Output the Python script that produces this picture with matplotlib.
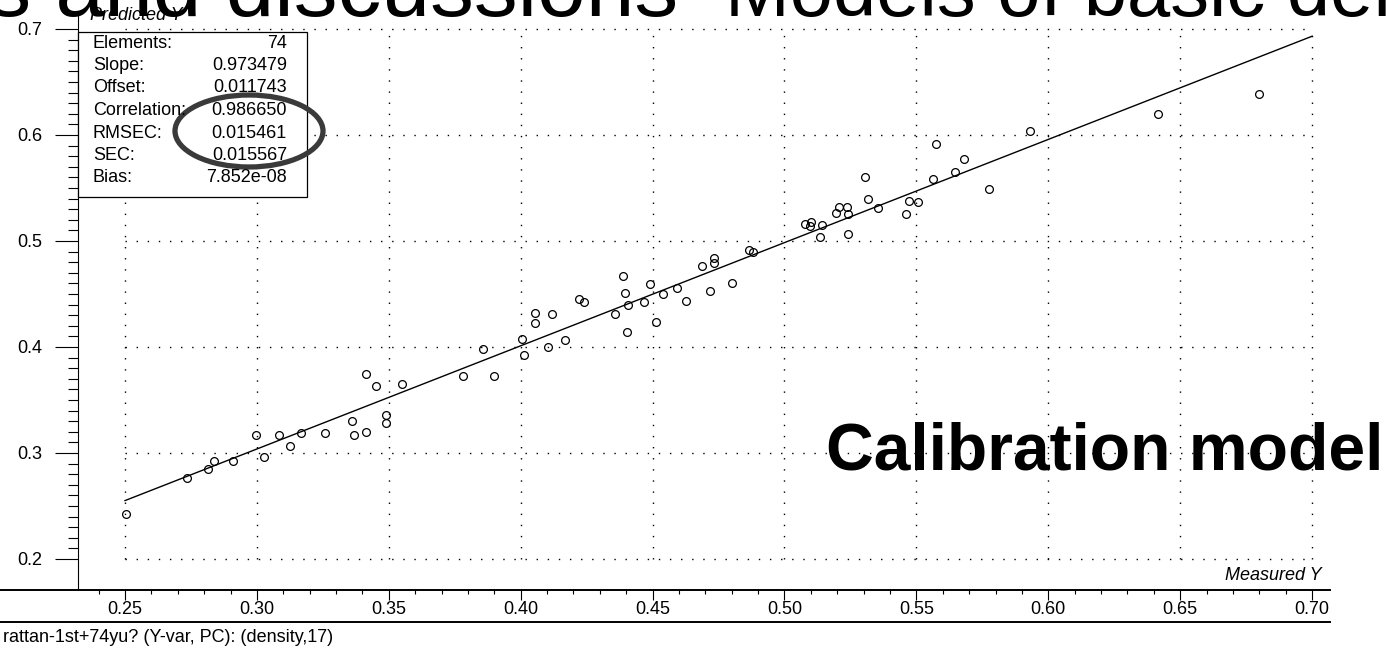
import matplotlib
matplotlib.use("Agg")
import matplotlib.pyplot as plt
from matplotlib.patches import Rectangle, Ellipse
from matplotlib.ticker import FixedLocator
import numpy as np

plt.rcParams['font.family'] = ['Liberation Sans', 'DejaVu Sans']

# ---- data -------------------------------------------------------------
measured = [0.2504, 0.2736, 0.2813, 0.2839, 0.2908, 0.2997, 0.3028, 0.3084,
            0.3124, 0.3168, 0.3259, 0.3359, 0.3369, 0.3414, 0.3412, 0.3453,
            0.3488, 0.3489, 0.3549, 0.3783, 0.3858, 0.3900, 0.4004, 0.4012,
            0.4053, 0.4053, 0.4102, 0.4117, 0.4167, 0.4221, 0.4241, 0.4357,
            0.4387, 0.4397, 0.4407, 0.4402, 0.4466, 0.4490, 0.4512, 0.4541,
            0.4591, 0.4627, 0.4686, 0.4716, 0.4734, 0.4734, 0.4801, 0.4865,
            0.4882, 0.5078, 0.5099, 0.5097, 0.5141, 0.5136, 0.5194, 0.5205,
            0.5236, 0.5241, 0.5241, 0.5304, 0.5315, 0.5356, 0.5459, 0.5471,
            0.5506, 0.5564, 0.5574, 0.5645, 0.5679, 0.5775, 0.5929, 0.6415,
            0.6800]
predicted = [0.2425, 0.2761, 0.2849, 0.2925, 0.2925, 0.3170, 0.2962, 0.3170,
             0.3063, 0.3186, 0.3186, 0.3299, 0.3170, 0.3198, 0.3745, 0.3635,
             0.3362, 0.3286, 0.3648, 0.3723, 0.3984, 0.3723, 0.4073, 0.3922,
             0.4324, 0.4224, 0.3997, 0.4311, 0.4063, 0.4450, 0.4425, 0.4311,
             0.4673, 0.4512, 0.4396, 0.4139, 0.4425, 0.4597, 0.4239, 0.4500,
             0.4560, 0.4437, 0.4764, 0.4525, 0.4840, 0.4790, 0.4601, 0.4915,
             0.4896, 0.5163, 0.5182, 0.5142, 0.5151, 0.5041, 0.5261, 0.5324,
             0.5324, 0.5252, 0.5063, 0.5601, 0.5399, 0.5314, 0.5252, 0.5377,
             0.5365, 0.5585, 0.5912, 0.5651, 0.5774, 0.5491, 0.6035, 0.6198,
             0.6387]

slope = 0.973479
offset = 0.011743
line_range = [0.25, 0.70]

stat_names = ["Elements:", "Slope:", "Offset:", "Correlation:", "RMSEC:", "SEC:", "Bias:"]
stat_values = ["74", "0.973479", "0.011743", "0.986650", "0.015461", "0.015567", "7.852e-08"]

x_ticks = [0.25, 0.30, 0.35, 0.40, 0.45, 0.50, 0.55, 0.60, 0.65, 0.70]
y_ticks = [0.2, 0.3, 0.4, 0.5, 0.6, 0.7]
x_minor = [round(0.24 + 0.01 * i, 2) for i in range(47)]
y_minor = [round(0.20 + 0.01 * i, 2) for i in range(51)]

title_left = "Results and discussions"
title_right = "Models of basic density"
banner = "Calibration model"
caption = "rattan-1st+74yu? (Y-var, PC): (density,17)"

# ---- figure -----------------------------------------------------------
W, H = 1387, 648
fig = plt.figure(figsize=(W / 100, H / 100), dpi=100)
fig.patch.set_facecolor("white")

ax_l, ax_r, ax_b, ax_t = 78, 1330, 590, 13
ax = fig.add_axes([ax_l / W, 1 - ax_b / H, (ax_r - ax_l) / W, (ax_b - ax_t) / H])
ax.set_xlim(0.23218, 0.70679)
ax.set_ylim(0.17075, 0.71509)
for s in ("top", "right", "bottom"):
    ax.spines[s].set_visible(False)
ax.spines["left"].set_linewidth(0.8)

# dotted grid inside the measurement window
dots = dict(color="black", lw=1.0, linestyle=(0, (1, 7)), zorder=1)
for xv in x_ticks:
    ax.plot([xv, xv], [y_ticks[0], y_ticks[-1]], **dots)
for yv in y_ticks:
    ax.plot([x_ticks[0], x_ticks[-1]], [yv, yv], **dots)

# regression line and samples
lx = np.array(line_range)
ax.plot(lx, slope * lx + offset, color="black", lw=1.0, zorder=3)
ax.plot(measured, predicted, linestyle="none", marker="o", ms=5.6,
        mfc="none", mec="black", mew=0.9, zorder=4)

ax.set_xticks(x_ticks)
ax.set_xticklabels([f"{v:.2f}" for v in x_ticks])
ax.set_yticks(y_ticks)
ax.set_yticklabels([f"{v:.1f}" for v in y_ticks])
ax.xaxis.set_minor_locator(FixedLocator(x_minor))
ax.yaxis.set_minor_locator(FixedLocator(y_minor))
ax.tick_params(axis="x", which="major", direction="out", length=7, width=0.8,
               labelsize=13, pad=1)
ax.tick_params(axis="x", which="minor", direction="out", length=3, width=0.8)
ax.tick_params(axis="y", which="major", direction="out", length=16.5, width=0.8,
               labelsize=13, pad=9)
ax.tick_params(axis="y", which="minor", direction="out", length=7, width=0.8)

# ---- overlay in pixel coordinates ------------------------------------
ov = fig.add_axes([0, 0, 1, 1], zorder=5)
ov.set_xlim(0, W)
ov.set_ylim(H, 0)
ov.axis("off")

ov.plot([0, ax_r], [ax_b, ax_b], color="black", lw=1.4)
ov.plot([0, ax_r], [622, 622], color="black", lw=1.4)
ov.text(3, 638, caption, fontsize=13, ha="left", va="center")
ov.text(1322, 576, "Measured Y", fontsize=13, style="italic", ha="right", va="center")
ov.text(90, 16, "Predicted Y", fontsize=13, style="italic", ha="left", va="center")

# statistics panel
ov.add_patch(Rectangle((78, 32), 229, 165, facecolor="white", edgecolor="black", lw=0.9))
for i, (name, val) in enumerate(zip(stat_names, stat_values)):
    yy = 43 + 22.5 * i
    ov.text(93, yy, name, fontsize=13, ha="left", va="center")
    ov.text(287, yy, val, fontsize=13, ha="right", va="center")

ov.add_patch(Ellipse((249, 131), 148, 72, angle=0, facecolor="none",
                     edgecolor="#3a3a3a", lw=3.8))

# slide headings
ov.text(678, 16, title_left, fontsize=63, ha="right", va="baseline")
ov.text(725, 16, title_right, fontsize=56, ha="left", va="baseline")
ov.text(826, 470, banner, fontsize=47.5, fontweight="bold", ha="left", va="baseline")

fig.savefig("out.png", dpi=100, facecolor="white")
